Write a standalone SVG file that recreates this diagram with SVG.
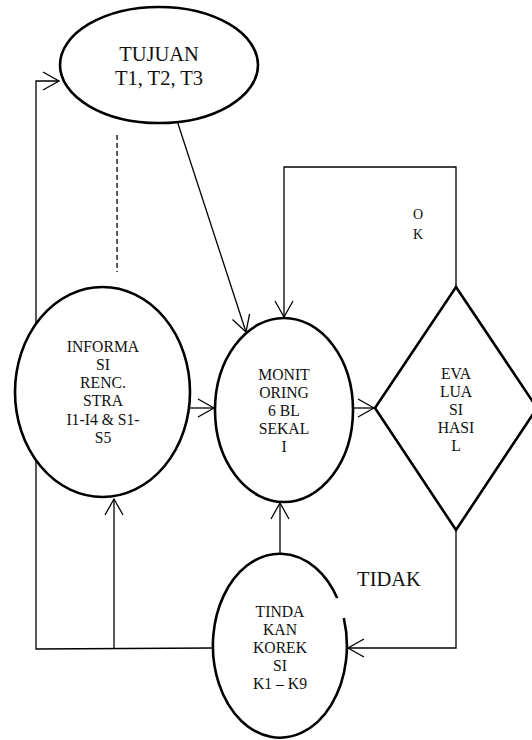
<svg xmlns="http://www.w3.org/2000/svg" width="532" height="740" viewBox="0 0 532 740">
  <style>
    .shape { fill: #fff; stroke: #000; stroke-width: 2.6; }
    .link { fill: none; stroke: #000; stroke-width: 1.3; }
    .dash { fill: none; stroke: #000; stroke-width: 1.3; stroke-dasharray: 5 3; }
    text { font-family: "Liberation Serif", "Times New Roman", serif; fill: #111; text-anchor: middle; }
    .big { font-size: 20.5px; }
    .mid { font-size: 15.7px; }
    .small { font-size: 14px; }
  </style>
  <defs>
    <marker id="open" viewBox="-18 -11 20 22" refX="0" refY="0" markerWidth="20" markerHeight="22" markerUnits="userSpaceOnUse" orient="auto">
      <path d="M -16 -9 L 0 0 L -16 9" fill="none" stroke="#000" stroke-width="1.3"/>
    </marker>
  </defs>

  <!-- connectors -->
  <g id="connectors">
    <!-- feedback loop up the left side into TUJUAN -->
    <path class="link" d="M 213 648 L 36 649 L 36 81 L 59 81" marker-end="url(#open)"/>
    <!-- branch up into INFORMASI -->
    <path class="link" d="M 114 648 L 114 499" marker-end="url(#open)"/>
    <!-- dashed link below TUJUAN -->
    <path class="dash" d="M 117 135 L 117 272"/>
    <!-- TUJUAN to MONITORING -->
    <path class="link" d="M 168 93 L 246 332" marker-end="url(#open)"/>
    <!-- INFORMASI to MONITORING -->
    <path class="link" d="M 190 408 L 214 408" marker-end="url(#open)"/>
    <!-- MONITORING to EVALUASI -->
    <path class="link" d="M 353 408 L 374 408" marker-end="url(#open)"/>
    <!-- OK loop back to MONITORING -->
    <path class="link" d="M 456 287 L 456 167 L 284 167 L 284 317" marker-end="url(#open)"/>
    <!-- TIDAK branch to TINDAKAN -->
    <path class="link" d="M 456 530 L 456 648 L 348 648" marker-end="url(#open)"/>
    <!-- TINDAKAN up to MONITORING -->
    <path class="link" d="M 280 555 L 280 503" marker-end="url(#open)"/>
  </g>

  <g id="tujuan">
    <ellipse class="shape" cx="159" cy="65" rx="99" ry="58"/>
    <text class="big" x="159" y="61">TUJUAN</text>
    <text class="big" x="159" y="85">T1, T2, T3</text>
  </g>

  <g id="informasi">
    <ellipse class="shape" cx="102.5" cy="392" rx="87.5" ry="105"/>
    <text class="mid" x="103" y="352">INFORMA</text>
    <text class="mid" x="103" y="370">SI</text>
    <text class="mid" x="103" y="388">RENC.</text>
    <text class="mid" x="103" y="406">STRA</text>
    <text class="mid" x="103" y="425">I1-I4 &amp; S1-</text>
    <text class="mid" x="103" y="443">S5</text>
  </g>

  <g id="monitoring">
    <ellipse class="shape" cx="284" cy="410" rx="69" ry="92"/>
    <text class="mid" x="284" y="380">MONIT</text>
    <text class="mid" x="284" y="398">ORING</text>
    <text class="mid" x="284" y="416">6 BL</text>
    <text class="mid" x="284" y="434">SEKAL</text>
    <text class="mid" x="284" y="452">I</text>
  </g>

  <g id="evaluasi">
    <polygon class="shape" points="456,287 537,408 456,530 375,408"/>
    <text class="mid" x="456" y="379">EVA</text>
    <text class="mid" x="456" y="397">LUA</text>
    <text class="mid" x="456" y="415">SI</text>
    <text class="mid" x="456" y="433">HASI</text>
    <text class="mid" x="456" y="451">L</text>
  </g>

  <g id="ok-label">
    <text class="small" x="418" y="219">O</text>
    <text class="small" x="418" y="239">K</text>
  </g>

  <g id="tidak-label">
    <text class="big" x="389" y="586">TIDAK</text>
  </g>

  <g id="tindakan">
    <path class="shape" d="M 343.8 618 A 67 92 0 1 1 337.2 598"/>
    <text class="mid" x="280" y="617">TINDA</text>
    <text class="mid" x="280" y="635">KAN</text>
    <text class="mid" x="280" y="653">KOREK</text>
    <text class="mid" x="280" y="671">SI</text>
    <text class="mid" x="280" y="689">K1 – K9</text>
  </g>
</svg>
